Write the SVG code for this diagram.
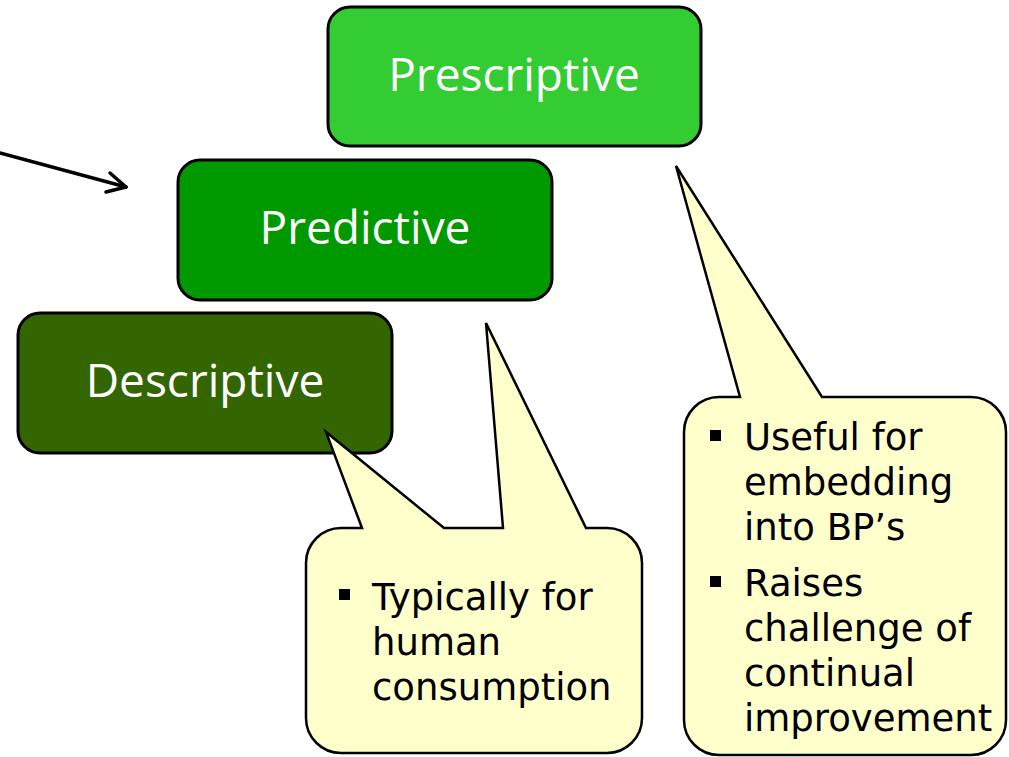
<svg xmlns="http://www.w3.org/2000/svg" width="1009" height="757" viewBox="0 0 1009 757">
<style>
.box{stroke:#000;stroke-width:3}
.title{font-family:"Open Sans","Liberation Sans",sans-serif;font-size:46px;fill:#fff;text-anchor:middle}
.call{fill:#ffffcc;stroke:#000;stroke-width:2.5;stroke-linejoin:miter}
.txt{font-family:"DejaVu Sans","Liberation Sans",sans-serif;font-size:37px;fill:#000}
.bul{fill:#000}
.conn{stroke:#000;stroke-width:3.5;fill:none;stroke-linecap:round;stroke-linejoin:round}
</style>
<rect width="1009" height="757" fill="#fff"/>
<g id="connectors">
<path class="conn" d="M0 153 L126 187"/>
<path class="conn" d="M110 173 L126 187 L106 192"/>
</g>
<g id="prescriptive">
<rect class="box" x="328" y="7" width="373" height="139" rx="22" fill="#33cc33"/>
<text class="title" x="514" y="91">Prescriptive</text>
</g>
<g id="predictive">
<rect class="box" x="178" y="160" width="374" height="140" rx="22" fill="#009900"/>
<text class="title" x="365" y="244">Predictive</text>
</g>
<g id="descriptive">
<rect class="box" x="18" y="313" width="374" height="140" rx="22" fill="#336600"/>
<text class="title" x="205" y="397">Descriptive</text>
</g>
<g id="callout-human">
<path class="call" d="M341 528 L362 528 L326 432 L444 528 L503 528 L486 323 L586 528 L607 528 A35 35 0 0 1 642 563 L642 718 A35 35 0 0 1 607 753 L341 753 A35 35 0 0 1 306 718 L306 563 A35 35 0 0 1 341 528 Z"/>
<rect class="bul" x="339" y="589" width="11" height="11"/>
<text class="txt" x="372" y="610">Typically for</text>
<text class="txt" x="372" y="655">human</text>
<text class="txt" x="372" y="700">consumption</text>
</g>
<g id="callout-bp">
<path class="call" d="M719 397 L740 397 L676 166 L822 397 L971 397 A35 35 0 0 1 1006 432 L1006 720 A35 35 0 0 1 971 755 L719 755 A35 35 0 0 1 684 720 L684 432 A35 35 0 0 1 719 397 Z"/>
<rect class="bul" x="710" y="430" width="11" height="11"/>
<text class="txt" x="744" y="450">Useful for</text>
<text class="txt" x="744" y="495">embedding</text>
<text class="txt" x="744" y="540">into BP’s</text>
<rect class="bul" x="710" y="576" width="11" height="11"/>
<text class="txt" x="744" y="596">Raises</text>
<text class="txt" x="744" y="641">challenge of</text>
<text class="txt" x="744" y="686">continual</text>
<text class="txt" x="744" y="731">improvement</text>
</g>
</svg>
